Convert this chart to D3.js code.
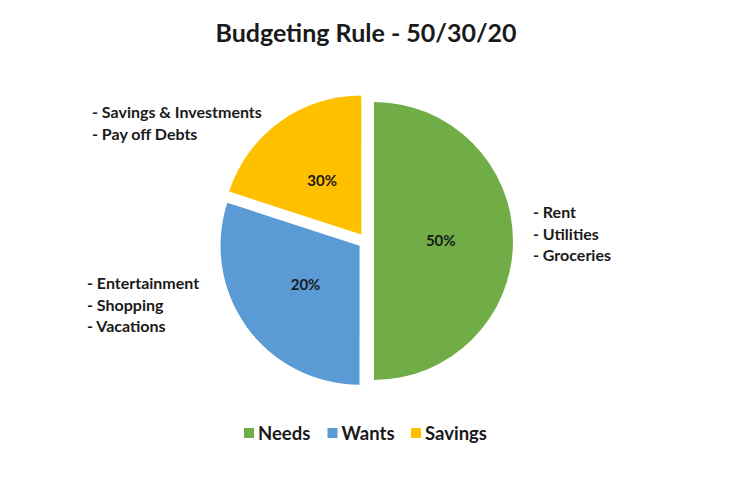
<!DOCTYPE html>
<html>
<head>
<meta charset="utf-8">
<script src="https://cdn.jsdelivr.net/npm/d3@7"></script>
<style>
  body { margin: 0; background: #fff; }
  text { font-family: Lato, "Open Sans", sans-serif; font-weight: bold; fill: #1a1a1a; }
</style>
</head>
<body>
<div id="chart"></div>
<script>
// slice sizes as drawn, and the percentage labels printed on them
const categories = ["Needs", "Wants", "Savings"];
const sliceValues = [50, 30, 20];
const sliceLabels = ["50%", "20%", "30%"];
const colors = ["#70AD47", "#5B9BD5", "#FFC000"];
const notes = [
    ["- Rent", "- Utilities", "- Groceries"],
    ["- Entertainment", "- Shopping", "- Vacations"],
    ["- Savings & Investments", "- Pay off Debts"]
];

const width = 732, height = 483;
const cx = 366, cy = 241, radius = 139, explode = 8;

let svg = d3.select("#chart").append("svg")
    .attr("width", width)
    .attr("height", height);

// title
svg.append("text")
    .attr("x", cx)
    .attr("y", 42)
    .attr("text-anchor", "middle")
    .attr("font-size", "25px")
    .text("Budgeting Rule - 50/30/20");

let pie = d3.pie().sort(null).value(d => d);
let arcs = pie(sliceValues);

let arc = d3.arc().innerRadius(0).outerRadius(radius);
let labelArc = d3.arc().innerRadius(radius * 0.48).outerRadius(radius * 0.48);

// offset each slice along its mid angle
function offset(d) {
    let a = (d.startAngle + d.endAngle) / 2;
    return [Math.sin(a) * explode, -Math.cos(a) * explode];
}

let slices = svg.append("g")
    .attr("transform", `translate(${cx}, ${cy})`)
    .selectAll(".slice")
    .data(arcs)
    .join("g")
    .attr("class", "slice")
    .attr("transform", d => `translate(${offset(d)})`);

slices.append("path")
    .attr("d", arc)
    .attr("fill", (d, i) => colors[i]);

slices.append("text")
    .attr("transform", d => `translate(${labelArc.centroid(d)})`)
    .attr("text-anchor", "middle")
    .attr("dy", "0.35em")
    .attr("font-size", "15px")
    .text((d, i) => sliceLabels[i]);

// side notes
const notePos = [[533, 218], [87, 289], [92, 118]];
notes.forEach((lines, i) => {
    svg.append("text")
        .attr("x", notePos[i][0])
        .attr("y", notePos[i][1])
        .attr("font-size", "16px")
        .selectAll("tspan")
        .data(lines)
        .join("tspan")
        .attr("x", notePos[i][0])
        .attr("dy", (d, j) => j === 0 ? 0 : 21.5)
        .text(d => d);
});

// legend
let legendX = d3.scalePoint()
    .domain(categories)
    .range([244, 411]);

let legend = svg.append("g")
    .selectAll(".legend")
    .data(categories)
    .join("g")
    .attr("class", "legend")
    .attr("transform", d => `translate(${legendX(d)}, 433)`);

legend.append("rect")
    .attr("x", 0)
    .attr("y", -5)
    .attr("width", 10)
    .attr("height", 10)
    .attr("fill", (d, i) => colors[i]);

legend.append("text")
    .attr("x", 14)
    .attr("dy", "0.36em")
    .attr("font-size", "18.5px")
    .text(d => d);
</script>
</body>
</html>
